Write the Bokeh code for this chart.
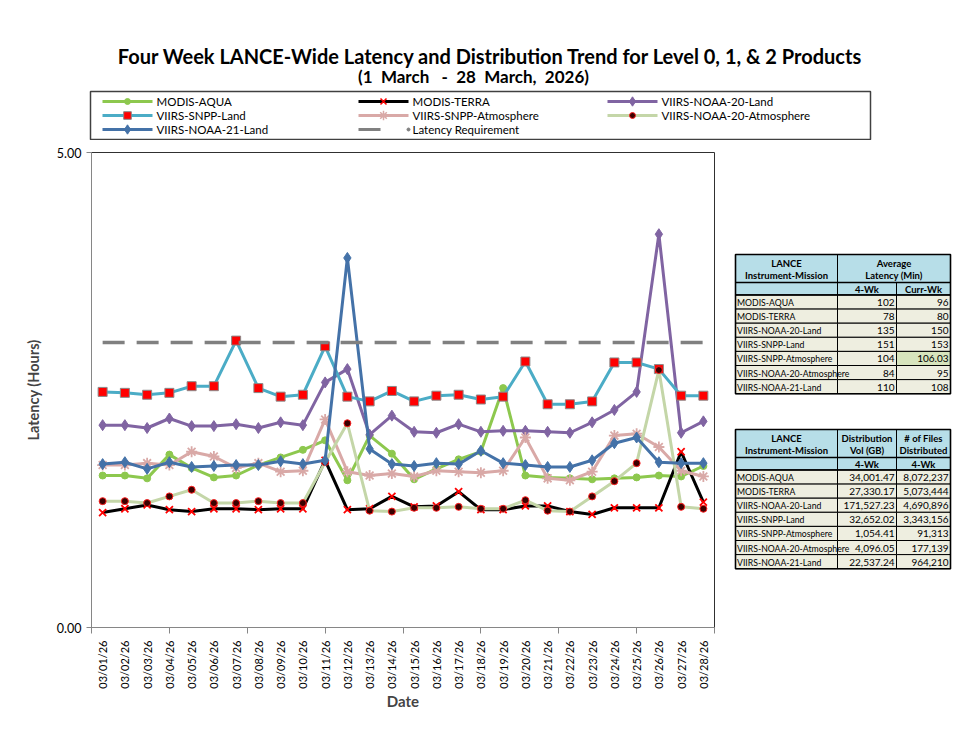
import math
from bokeh.plotting import figure
from bokeh.models import Range1d, FixedTicker, NumeralTickFormatter
from bokeh.layouts import column, row
from bokeh.embed import file_html
from bokeh.resources import INLINE
from bokeh.core.properties import value

# ---------------- data ----------------
dates = ["03/01/26", "03/02/26", "03/03/26", "03/04/26", "03/05/26", "03/06/26", "03/07/26",
         "03/08/26", "03/09/26", "03/10/26", "03/11/26", "03/12/26", "03/13/26", "03/14/26",
         "03/15/26", "03/16/26", "03/17/26", "03/18/26", "03/19/26", "03/20/26", "03/21/26",
         "03/22/26", "03/23/26", "03/24/26", "03/25/26", "03/26/26", "03/27/26", "03/28/26"]

modis_aqua = [1.60, 1.60, 1.57, 1.82, 1.68, 1.58, 1.60, 1.71, 1.79, 1.87, 1.97, 1.55, 2.02, 1.83,
              1.56, 1.67, 1.77, 1.85, 2.52, 1.60, 1.58, 1.57, 1.56, 1.57, 1.58, 1.60, 1.59, 1.70]
modis_terra = [1.21, 1.25, 1.29, 1.24, 1.22, 1.25, 1.25, 1.24, 1.25, 1.25, 1.76, 1.24, 1.25, 1.38,
               1.27, 1.28, 1.43, 1.24, 1.24, 1.28, 1.28, 1.22, 1.19, 1.26, 1.26, 1.26, 1.85, 1.32]
noaa20_land = [2.13, 2.13, 2.10, 2.20, 2.12, 2.12, 2.14, 2.10, 2.16, 2.13, 2.58, 2.72, 2.03, 2.23,
               2.06, 2.05, 2.14, 2.06, 2.07, 2.07, 2.06, 2.05, 2.16, 2.29, 2.48, 4.14, 2.05, 2.17]
snpp_land = [2.48, 2.47, 2.45, 2.47, 2.54, 2.54, 3.02, 2.52, 2.43, 2.45, 2.96, 2.43, 2.38, 2.49,
             2.38, 2.44, 2.45, 2.40, 2.43, 2.80, 2.35, 2.35, 2.38, 2.79, 2.79, 2.72, 2.44, 2.44]
snpp_atm = [1.71, 1.71, 1.73, 1.71, 1.85, 1.80, 1.68, 1.73, 1.64, 1.65, 2.19, 1.64, 1.60, 1.62,
            1.59, 1.65, 1.64, 1.63, 1.65, 2.00, 1.57, 1.55, 1.64, 2.02, 2.04, 1.90, 1.65, 1.59]
noaa20_atm = [1.33, 1.33, 1.31, 1.38, 1.45, 1.31, 1.31, 1.33, 1.31, 1.31, 1.74, 2.15, 1.23, 1.22,
              1.26, 1.26, 1.27, 1.25, 1.25, 1.34, 1.23, 1.22, 1.38, 1.54, 1.73, 2.71, 1.27, 1.25]
noaa21_land = [1.72, 1.74, 1.67, 1.74, 1.69, 1.70, 1.71, 1.71, 1.75, 1.72, 1.76, 3.89, 1.88, 1.72,
               1.70, 1.73, 1.72, 1.86, 1.73, 1.71, 1.69, 1.69, 1.76, 1.94, 2.00, 1.74, 1.73, 1.73]
latency_req = [3.00, 3.00, 3.00, 3.00, 3.00, 3.00, 3.00, 3.00, 3.00, 3.00, 3.00, 3.00, 3.00, 3.00,
               3.00, 3.00, 3.00, 3.00, 3.00, 3.00, 3.00, 3.00, 3.00, 3.00, 3.00, 3.00, 3.00, 3.00]

y_ticks = [0, 5]

missions = ["MODIS-AQUA", "MODIS-TERRA", "VIIRS-NOAA-20-Land", "VIIRS-SNPP-Land",
            "VIIRS-SNPP-Atmosphere", "VIIRS-NOAA-20-Atmosphere", "VIIRS-NOAA-21-Land"]
lat_4wk = ["102", "78", "135", "151", "104", "84", "110"]
lat_curr = ["96", "80", "150", "153", "106.03", "95", "108"]
vol_4wk = ["34,001.47", "27,330.17", "171,527.23", "32,652.02", "1,054.41", "4,096.05", "22,537.24"]
files_4wk = ["8,072,237", "5,073,444", "4,690,896", "3,343,156", "91,313", "177,139", "964,210"]

title_text = "Four Week LANCE-Wide Latency and Distribution Trend for Level 0, 1, & 2 Products"
subtitle_text = "(1\u00a0 March \u00a0 -\u00a0 28\u00a0 March,\u00a0 2026)"

FONT = "Lato"

# style per series: (label, values, line color, marker, size, fill, outline)
series = [
    ("MODIS-AQUA", modis_aqua, "#8DC84E", "circle", 7, "#8DC84E", "#8DC84E"),
    ("MODIS-TERRA", modis_terra, "#000000", "x", 10, "#FF0000", "#FF0000"),
    ("VIIRS-NOAA-20-Land", noaa20_land, "#8064A2", "diamond", 11, "#8064A2", "#8064A2"),
    ("VIIRS-SNPP-Land", snpp_land, "#4BACC6", "square", 9, "#FF0000", "#8A8A8A"),
    ("VIIRS-SNPP-Atmosphere", snpp_atm, "#D9A9A7", "asterisk", 11, "#D9A9A7", "#D9A9A7"),
    ("VIIRS-NOAA-20-Atmosphere", noaa20_atm, "#C4D6A8", "circle", 7, "#3A0000", "#FF2020"),
    ("VIIRS-NOAA-21-Land", noaa21_land, "#4472A8", "diamond", 11, "#4472A8", "#4472A8"),
]
req_color = "#808080"

# ---------------- header (title + legend) ----------------
head = figure(width=972, height=140, x_range=Range1d(0, 972), y_range=Range1d(140, 0),
              output_backend="svg", toolbar_location=None, min_border=0,
              x_axis_type=None, y_axis_type=None, outline_line_color=None)
head.text(x=[490], y=[55], text=[title_text], text_font=value(FONT), text_font_size="20px",
          text_font_style="bold", text_align="center", text_baseline="middle", text_color="black")
head.text(x=[473], y=[76], text=[subtitle_text], text_font=value(FONT), text_font_size="17px",
          text_font_style="bold", text_align="center", text_baseline="middle", text_color="black")
head.quad(left=[90], right=[870], top=[91], bottom=[139], fill_color=None,
          line_color="#404040", line_width=1.5)

col_x = [102, 358, 607]
SAMPLE = 50
row_y = [101, 115, 129]
for i, (label, vals, lc, mk, sz, fc, oc) in enumerate(series):
    cx = col_x[i % 3]
    cy = row_y[i // 3]
    head.segment(x0=[cx], y0=[cy], x1=[cx + SAMPLE], y1=[cy], line_color=lc, line_width=3)
    head.scatter(x=[cx + SAMPLE / 2], y=[cy], marker=mk, size=sz * 0.85, fill_color=fc,
                 line_color=oc, line_width=1.5 if mk in ("x", "asterisk") else 1)
    head.text(x=[cx + SAMPLE + 4], y=[cy], text=[label], text_font=value(FONT),
              text_font_size="11.5px", text_align="left", text_baseline="middle",
              text_color="black")
# latency requirement legend entry
cx, cy = col_x[1], row_y[2]
head.segment(x0=[cx], y0=[cy], x1=[cx + 22], y1=[cy], line_color=req_color, line_width=3)
head.scatter(x=[cx + SAMPLE], y=[cy], marker="circle", size=3, fill_color=req_color,
             line_color=req_color)
head.text(x=[cx + SAMPLE + 4], y=[cy], text=["Latency Requirement"], text_font=value(FONT),
          text_font_size="11.5px", text_align="left", text_baseline="middle", text_color="black")

# ---------------- main chart ----------------
BT, BB = 12, 102
p = figure(width=720, height=589, x_range=Range1d(0.5, 28.5), y_range=Range1d(0, 5),
           output_backend="svg", toolbar_location=None,
           min_border_left=91, min_border_right=6, min_border_top=BT, min_border_bottom=BB)
p.xgrid.visible = False
p.ygrid.visible = False
p.outline_line_color = "#303030"
p.outline_line_width = 1
p.background_fill_color = "white"

xs = list(range(1, len(dates) + 1))
for label, vals, lc, mk, sz, fc, oc in series:
    p.line(x=xs, y=vals, line_color=lc, line_width=3)
    p.scatter(x=xs, y=vals, marker=mk, size=sz, fill_color=fc, line_color=oc,
              line_width=1.8 if mk in ("x", "asterisk") else 1)
p.line(x=xs, y=latency_req, line_color=req_color, line_width=3.5, line_dash="22 12")

p.xaxis.ticker = FixedTicker(ticks=xs, minor_ticks=[0.5, 4, 7.5, 11, 14.5, 18, 21.5, 25, 28.5])
p.xaxis.major_label_overrides = {x: d for x, d in zip(xs, dates)}
p.xaxis.major_label_orientation = math.pi / 2
p.xaxis.major_tick_out = 0
p.xaxis.major_tick_in = 0
p.xaxis.minor_tick_out = 6
p.xaxis.minor_tick_in = 0
p.xaxis.minor_tick_line_color = "#868686"
p.xaxis.axis_line_color = "#868686"
p.xaxis.major_label_standoff = 7
p.xaxis.major_label_text_font = FONT
p.xaxis.major_label_text_font_size = "11px"
p.xaxis.major_label_text_color = "black"
p.xaxis.axis_label = "Date"
p.xaxis.axis_label_text_font = FONT
p.xaxis.axis_label_text_font_size = "15px"
p.xaxis.axis_label_text_font_style = "bold"
p.xaxis.axis_label_standoff = 0

p.yaxis.ticker = FixedTicker(ticks=y_ticks, minor_ticks=[])
p.yaxis.formatter = NumeralTickFormatter(format="0.00")
p.yaxis.major_tick_out = 5
p.yaxis.major_tick_in = 0
p.yaxis.minor_tick_out = 0
p.yaxis.minor_tick_in = 0
p.yaxis.major_tick_line_color = "#868686"
p.yaxis.axis_line_color = "#868686"
p.yaxis.major_label_text_font = FONT
p.yaxis.major_label_text_font_size = "12.5px"
p.yaxis.major_label_text_color = "black"
p.yaxis.major_label_standoff = 5
p.yaxis.axis_label = "Latency (Hours)"
p.yaxis.axis_label_text_font = FONT
p.yaxis.axis_label_text_font_size = "14.5px"
p.yaxis.axis_label_text_font_style = "bold"
p.yaxis.axis_label_standoff = 12

# ---------------- tables ----------------
# frame aligned with the main chart frame (page y 152..627), ranges in page pixels
t = figure(width=252, height=589, x_range=Range1d(720, 972), y_range=Range1d(627, 152),
           output_backend="svg", toolbar_location=None, min_border_left=0,
           min_border_right=0, min_border_top=BT, min_border_bottom=BB,
           x_axis_type=None, y_axis_type=None, outline_line_color=None)

HDR = "#B7DEE8"
ROW = "#EEEEE0"
HIL = "#D7E4BD"
CX = [735, 837, 896, 950]
RH = 14.1


def draw_table(top, h2a, h2b, h3a, h3b, sub2, sub3, c2, c3, merged, hil_cell=None):
    hb = top + 28
    sb = top + 40.5
    # header cells
    if merged:
        t.quad(left=[CX[1]], right=[CX[3]], top=[top], bottom=[hb], fill_color=HDR,
               line_color="black", line_width=1)
    else:
        t.quad(left=[CX[1], CX[2]], right=[CX[2], CX[3]], top=[top, top], bottom=[hb, hb],
               fill_color=HDR, line_color="black", line_width=1)
    t.quad(left=[CX[0]], right=[CX[1]], top=[top], bottom=[hb], fill_color=HDR,
           line_color="black", line_width=1)
    t.quad(left=CX[:3], right=CX[1:], top=[hb] * 3, bottom=[sb] * 3, fill_color=HDR,
           line_color="black", line_width=1)
    # data cells
    n = len(missions)
    tops = [sb + i * RH for i in range(n)]
    bots = [sb + (i + 1) * RH for i in range(n)]
    for ci in range(3):
        fills = [ROW] * n
        if hil_cell is not None and hil_cell[1] == ci:
            fills[hil_cell[0]] = HIL
        t.quad(left=[CX[ci]] * n, right=[CX[ci + 1]] * n, top=tops, bottom=bots,
               fill_color=fills, line_color="black", line_width=1)
    # outer frame
    t.quad(left=[CX[0]], right=[CX[3]], top=[top], bottom=[bots[-1]], fill_color=None,
           line_color="black", line_width=1.6)
    t.segment(x0=[CX[0]], y0=[hb], x1=[CX[3]], y1=[hb], line_color="black", line_width=1.6)
    t.segment(x0=[CX[0]], y0=[sb], x1=[CX[3]], y1=[sb], line_color="black", line_width=1.6)
    # header texts
    hc1 = (CX[0] + CX[1]) / 2
    t.text(x=[hc1, hc1], y=[top + 8.5, top + 20.5], text=["LANCE", "Instrument-Mission"],
           text_font=value(FONT), text_font_size="9.5px", text_font_style="bold",
           text_align="center", text_baseline="middle", text_color="black")
    if merged:
        hc = (CX[1] + CX[3]) / 2
        t.text(x=[hc, hc], y=[top + 8.5, top + 20.5], text=[h2a, h2b], text_font=value(FONT),
               text_font_size="9.5px", text_font_style="bold", text_align="center",
               text_baseline="middle", text_color="black")
    else:
        h2 = (CX[1] + CX[2]) / 2
        h3 = (CX[2] + CX[3]) / 2
        t.text(x=[h2, h2, h3, h3], y=[top + 8.5, top + 20.5, top + 8.5, top + 20.5],
               text=[h2a, h2b, h3a, h3b], text_font=value(FONT), text_font_size="9.5px",
               text_font_style="bold", text_align="center", text_baseline="middle",
               text_color="black")
    t.text(x=[(CX[1] + CX[2]) / 2, (CX[2] + CX[3]) / 2], y=[hb + 6.5, hb + 6.5],
           text=[sub2, sub3], text_font=value(FONT), text_font_size="9.5px",
           text_font_style="bold", text_align="center", text_baseline="middle",
           text_color="black")
    # body texts
    mids = [(a + b) / 2 + 0.5 for a, b in zip(tops, bots)]
    t.text(x=[CX[0] + 1.5] * n, y=mids, text=missions, text_font=value(FONT),
           text_font_size="8.7px", text_align="left", text_baseline="middle", text_color="black")
    t.text(x=[CX[2] - 2] * n, y=mids, text=c2, text_font=value(FONT),
           text_font_size="10px", text_align="right", text_baseline="middle", text_color="black")
    t.text(x=[CX[3] - 2] * n, y=mids, text=c3, text_font=value(FONT),
           text_font_size="10px", text_align="right", text_baseline="middle", text_color="black")


draw_table(254, "Average", "Latency (Min)", None, None, "4-Wk", "Curr-Wk", lat_4wk, lat_curr,
           merged=True, hil_cell=(4, 2))
draw_table(429, "Distribution", "Vol (GB)", "# of Files", "Distributed", "4-Wk", "4-Wk",
           vol_4wk, files_4wk, merged=False)

layout = column(head, row(p, t))
open("out.html", "w").write(file_html(layout, INLINE))
